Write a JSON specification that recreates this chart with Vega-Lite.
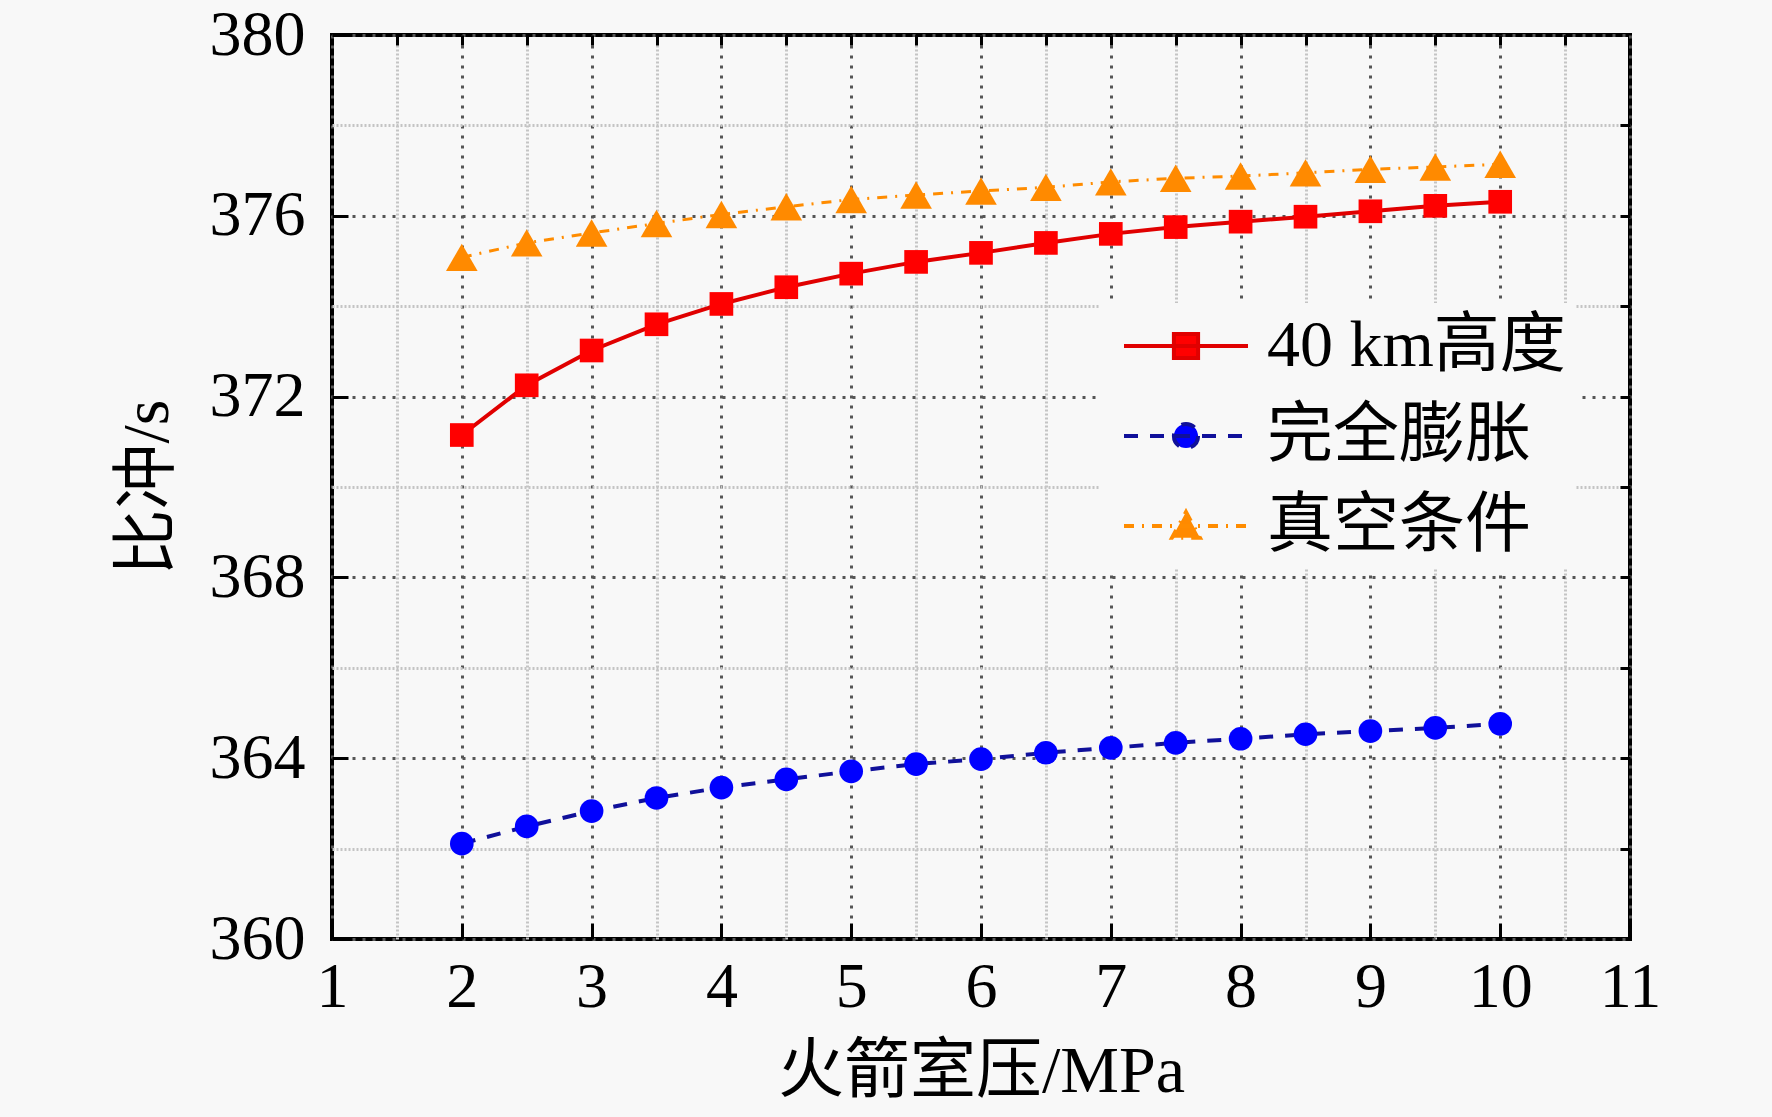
{
  "$schema": "https://vega.github.io/schema/vega-lite/v6.json",
  "width": 1298,
  "height": 904,
  "autosize": {"type": "none"},
  "padding": {"left": 332, "top": 35, "right": 142, "bottom": 178},
  "background": "#f8f8f8",
  "config": {
    "font": "Liberation Serif, Noto Sans CJK SC",
    "view": {"fill": "#f8f8f8", "stroke": "black", "strokeWidth": 4},
    "axis": {
      "domain": false,
      "labelFont": "Liberation Serif, Noto Sans CJK SC",
      "titleFont": "Liberation Serif, Noto Sans CJK SC",
      "labelColor": "black",
      "titleColor": "black",
      "tickColor": "black",
      "tickWidth": 3
    },
    "legend": {
      "orient": "none",
      "legendX": 768,
      "legendY": 268,
      "padding": 10,
      "fillColor": "#f8f8f8",
      "symbolSize": 3844,
      "symbolOpacity": 1,
      "symbolOffset": 43,
      "symbolStrokeWidth": 4,
      "labelOffset": 48,
      "labelFontSize": 66,
      "labelFont": "Liberation Serif, Noto Sans CJK SC",
      "labelColor": "black",
      "labelLimit": 0,
      "rowPadding": 24
    }
  },
  "datasets": {
    "pts": [
      {"p": 2, "isp": 371.15, "series": "40 km高度"},
      {"p": 2.5, "isp": 372.25, "series": "40 km高度"},
      {"p": 3, "isp": 373.02, "series": "40 km高度"},
      {"p": 3.5, "isp": 373.6, "series": "40 km高度"},
      {"p": 4, "isp": 374.05, "series": "40 km高度"},
      {"p": 4.5, "isp": 374.42, "series": "40 km高度"},
      {"p": 5, "isp": 374.72, "series": "40 km高度"},
      {"p": 5.5, "isp": 374.98, "series": "40 km高度"},
      {"p": 6, "isp": 375.18, "series": "40 km高度"},
      {"p": 6.5, "isp": 375.4, "series": "40 km高度"},
      {"p": 7, "isp": 375.6, "series": "40 km高度"},
      {"p": 7.5, "isp": 375.75, "series": "40 km高度"},
      {"p": 8, "isp": 375.87, "series": "40 km高度"},
      {"p": 8.5, "isp": 375.98, "series": "40 km高度"},
      {"p": 9, "isp": 376.1, "series": "40 km高度"},
      {"p": 9.5, "isp": 376.22, "series": "40 km高度"},
      {"p": 10, "isp": 376.31, "series": "40 km高度"},
      {"p": 2, "isp": 362.11, "series": "完全膨胀"},
      {"p": 2.5, "isp": 362.49, "series": "完全膨胀"},
      {"p": 3, "isp": 362.83, "series": "完全膨胀"},
      {"p": 3.5, "isp": 363.12, "series": "完全膨胀"},
      {"p": 4, "isp": 363.35, "series": "完全膨胀"},
      {"p": 4.5, "isp": 363.53, "series": "完全膨胀"},
      {"p": 5, "isp": 363.71, "series": "完全膨胀"},
      {"p": 5.5, "isp": 363.87, "series": "完全膨胀"},
      {"p": 6, "isp": 363.98, "series": "完全膨胀"},
      {"p": 6.5, "isp": 364.12, "series": "完全膨胀"},
      {"p": 7, "isp": 364.23, "series": "完全膨胀"},
      {"p": 7.5, "isp": 364.34, "series": "完全膨胀"},
      {"p": 8, "isp": 364.43, "series": "完全膨胀"},
      {"p": 8.5, "isp": 364.53, "series": "完全膨胀"},
      {"p": 9, "isp": 364.6, "series": "完全膨胀"},
      {"p": 9.5, "isp": 364.67, "series": "完全膨胀"},
      {"p": 10, "isp": 364.76, "series": "完全膨胀"},
      {"p": 2, "isp": 375.08, "series": "真空条件"},
      {"p": 2.5, "isp": 375.4, "series": "真空条件"},
      {"p": 3, "isp": 375.62, "series": "真空条件"},
      {"p": 3.5, "isp": 375.83, "series": "真空条件"},
      {"p": 4, "isp": 376.03, "series": "真空条件"},
      {"p": 4.5, "isp": 376.2, "series": "真空条件"},
      {"p": 5, "isp": 376.36, "series": "真空条件"},
      {"p": 5.5, "isp": 376.46, "series": "真空条件"},
      {"p": 6, "isp": 376.55, "series": "真空条件"},
      {"p": 6.5, "isp": 376.63, "series": "真空条件"},
      {"p": 7, "isp": 376.75, "series": "真空条件"},
      {"p": 7.5, "isp": 376.83, "series": "真空条件"},
      {"p": 8, "isp": 376.88, "series": "真空条件"},
      {"p": 8.5, "isp": 376.95, "series": "真空条件"},
      {"p": 9, "isp": 377.03, "series": "真空条件"},
      {"p": 9.5, "isp": 377.08, "series": "真空条件"},
      {"p": 10, "isp": 377.14, "series": "真空条件"}
    ]
  },
  "data": {"name": "pts"},
  "resolve": {"axis": {"x": "independent", "y": "independent"}},
  "layer": [
    {
      "transform": [{"filter": "datum.series == '40 km高度'"}],
      "mark": {"type": "line", "color": "#e00000", "strokeWidth": 4},
      "encoding": {
        "x": {
          "field": "p", "type": "quantitative",
          "scale": {"domain": [1, 11], "nice": false, "zero": false},
          "axis": {
            "values": [1, 2, 3, 4, 5, 6, 7, 8, 9, 10, 11],
            "format": "d",
            "labelFontSize": 64,
            "labelPadding": 32,
            "labelFlush": false,
            "tickSize": -16,
            "grid": true,
            "gridColor": "#555555",
            "gridDash": [3, 7],
            "gridWidth": 3,
            "title": "火箭室压/MPa",
            "titleFontSize": 66,
            "titleFontWeight": "normal",
            "titlePadding": 20
          }
        },
        "y": {
          "field": "isp", "type": "quantitative",
          "scale": {"domain": [360, 380], "nice": false, "zero": false},
          "axis": {
            "values": [360, 364, 368, 372, 376, 380],
            "format": "d",
            "labelFontSize": 64,
            "labelPadding": 43,
            "labelFlush": false,
            "tickSize": -16,
            "grid": true,
            "gridColor": "#555555",
            "gridDash": [3, 7],
            "gridWidth": 3,
            "title": "比冲/s",
            "titleFontSize": 66,
            "titleFontWeight": "normal",
            "titlePadding": 28
          }
        }
      }
    },
    {
      "transform": [{"filter": "datum.series == '完全膨胀'"}],
      "mark": {"type": "line", "color": "#10109a", "strokeWidth": 4, "strokeDash": [14, 12]},
      "encoding": {
        "x": {
          "field": "p", "type": "quantitative",
          "axis": {
            "values": [1.5, 2.5, 3.5, 4.5, 5.5, 6.5, 7.5, 8.5, 9.5, 10.5],
            "labels": false,
            "tickSize": -9,
            "grid": true,
            "gridColor": "#c4c4c4",
            "gridDash": [2, 2],
            "gridWidth": 3,
            "title": null,
            "maxExtent": 0,
            "minExtent": 0
          }
        },
        "y": {
          "field": "isp", "type": "quantitative",
          "axis": {
            "values": [362, 366, 370, 374, 378],
            "labels": false,
            "tickSize": -9,
            "grid": true,
            "gridColor": "#c4c4c4",
            "gridDash": [2, 2],
            "gridWidth": 3,
            "title": null,
            "maxExtent": 0,
            "minExtent": 0
          }
        }
      }
    },
    {
      "transform": [{"filter": "datum.series == '真空条件'"}],
      "mark": {"type": "line", "color": "#ff8c00", "strokeWidth": 3, "strokeDash": [10, 8, 2, 8]},
      "encoding": {
        "x": {
          "field": "p", "type": "quantitative",
          "axis": {
            "orient": "top",
            "values": [1.5, 2, 2.5, 3, 3.5, 4, 4.5, 5, 5.5, 6, 6.5, 7, 7.5, 8, 8.5, 9, 9.5, 10, 10.5],
            "labels": false,
            "tickSize": -10,
            "grid": false,
            "title": null,
            "maxExtent": 0,
            "minExtent": 0
          }
        },
        "y": {
          "field": "isp", "type": "quantitative",
          "axis": {
            "orient": "right",
            "values": [362, 364, 366, 368, 370, 372, 374, 376, 378],
            "labels": false,
            "tickSize": -10,
            "grid": false,
            "title": null,
            "maxExtent": 0,
            "minExtent": 0
          }
        }
      }
    },
    {
      "transform": [{"filter": "datum.series == '40 km高度'"}],
      "mark": {"type": "point", "shape": "square", "filled": true, "opacity": 1, "size": 560, "color": "#ff0000"},
      "encoding": {
        "x": {"field": "p", "type": "quantitative", "axis": null},
        "y": {"field": "isp", "type": "quantitative", "axis": null}
      }
    },
    {
      "transform": [{"filter": "datum.series == '完全膨胀'"}],
      "mark": {"type": "point", "shape": "circle", "filled": true, "opacity": 1, "size": 560, "color": "#0000ff"},
      "encoding": {
        "x": {"field": "p", "type": "quantitative", "axis": null},
        "y": {"field": "isp", "type": "quantitative", "axis": null}
      }
    },
    {
      "transform": [{"filter": "datum.series == '真空条件'"}],
      "mark": {"type": "point", "shape": "triangle-up", "filled": true, "opacity": 1, "size": 1000, "color": "#ff8a00"},
      "encoding": {
        "x": {"field": "p", "type": "quantitative", "axis": null},
        "y": {"field": "isp", "type": "quantitative", "axis": null}
      }
    },
    {
      "transform": [{"filter": "datum.p == 2"}],
      "mark": {"type": "point", "opacity": 0, "size": 3844, "strokeWidth": 4},
      "encoding": {
        "x": {"field": "p", "type": "quantitative", "axis": null},
        "y": {"field": "isp", "type": "quantitative", "axis": null},
        "fill": {
          "field": "series", "type": "nominal",
          "scale": {"domain": ["40 km高度", "完全膨胀", "真空条件"], "range": ["#ff0000", "#0000ff", "#ff8a00"]},
          "legend": {"title": null}
        },
        "stroke": {
          "field": "series", "type": "nominal",
          "scale": {"domain": ["40 km高度", "完全膨胀", "真空条件"], "range": ["#e00000", "#10109a", "#ff8c00"]},
          "legend": {"title": null}
        },
        "shape": {
          "field": "series", "type": "nominal",
          "scale": {
            "domain": ["40 km高度", "完全膨胀", "真空条件"],
            "range": [
              "M-2,0H2M-0.39,-0.39H0.39V0.39H-0.39Z",
              "M-2,0H2M0.39,0A0.39,0.39 0 1,1 -0.39,0A0.39,0.39 0 1,1 0.39,0Z",
              "M-2,0H2M0,-0.45L0.45,0.38H-0.45Z"
            ]
          },
          "legend": {"title": null}
        },
        "strokeDash": {
          "field": "series", "type": "nominal",
          "scale": {"domain": ["40 km高度", "完全膨胀", "真空条件"], "range": [[1, 0], [14, 12], [10, 8, 2, 8]]},
          "legend": {"title": null}
        }
      }
    }
  ]
}
